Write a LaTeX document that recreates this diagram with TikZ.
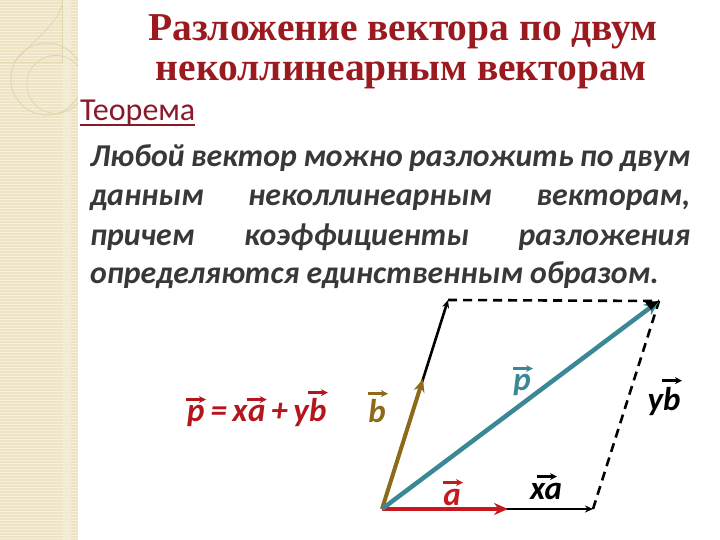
\documentclass[tikz,border=0pt]{standalone}
\usepackage{fontspec}
\setmainfont{Carlito}
\newfontfamily\titlefont{Liberation Serif}
\usetikzlibrary{arrows.meta}
\definecolor{titlered}{HTML}{9A1A1F}
\definecolor{theored}{HTML}{8A1A2A}
\definecolor{bodygray}{HTML}{383838}
\definecolor{fred}{HTML}{B5161E}
\definecolor{vred}{HTML}{C8181E}
\definecolor{volive}{HTML}{8C6A1A}
\definecolor{vteal}{HTML}{3A8896}
\definecolor{stripc}{HTML}{EEE4C5}
\definecolor{stripl}{HTML}{F6EFDA}
\definecolor{decor}{HTML}{E2D6B0}
\tikzset{
  titletext/.style={font=\titlefont\bfseries\fontsize{39.5}{44}\selectfont, text=titlered, inner sep=0pt},
  bodytext/.style={font=\bfseries\itshape\fontsize{31.8}{36}\selectfont, text=bodygray, inner sep=0pt, anchor=base west},
  lbl/.style={font=\bfseries\itshape\fontsize{33}{36}\selectfont, inner sep=0pt, anchor=base},
  overarrow/.style={line width=2.4pt, -{Stealth[length=7pt,width=7pt]}},
  side/.style={line width=2.6pt, black, -{Stealth[length=8pt,width=7pt]}},
  dashside/.style={line width=2.6pt, black, dash pattern=on 9pt off 6pt},
}
\begin{document}
\begin{tikzpicture}[x=1pt,y=-1pt]
\useasboundingbox (0,0) rectangle (720,540);
\fill[white] (0,0) rectangle (720,540);
% left decorative strip
\fill[stripc] (0,0) rectangle (78,540);
\foreach \yy in {1,4,...,540} \draw[stripl, line width=0.9pt] (0,\yy) -- (78,\yy);
\fill[stripl, opacity=0.6] (63,0) rectangle (71,540);
\draw[decor, line width=0.8pt] (0,62) -- (62,62) -- (62,0);
\draw[decor, line width=0.8pt] (14,62) .. controls (35,40) and (55,25) .. (62,6);
\draw[decor, line width=1pt] (78,97) arc[start angle=30, end angle=330, radius=36];
\draw[decor, line width=0.8pt] (78,103) arc[start angle=40, end angle=320, radius=29];

% title
\node[titletext] (t1) at (403,32) {Разложение вектора по двум};
\node[titletext] (t2) at (401,75) {неколлинеарным векторам};

% theorem
\node[font=\fontsize{32}{34}\selectfont, text=theored, inner sep=0pt, anchor=base west] (th) at (80,121) {Теорема};
\draw[theored, line width=1.6pt] ([yshift=-4pt]th.base west) -- ([yshift=-4pt]th.base east);

% body
\node[bodytext] (l1) at (90,167) {\makebox[600pt][s]{Любой вектор можно разложить по двум}};
\node[bodytext] (l2) at (90,206) {\makebox[600pt][s]{данным неколлинеарным векторам,}};
\node[bodytext] (l3) at (90,245) {\makebox[600pt][s]{причем коэффициенты разложения}};
\node[bodytext] (l4) at (90,283) {определяются единственным образом.};

% formula
\begin{scope}[every node/.style={lbl, text=fred, anchor=base west}]
\node (fp) at (187,421) {p};
\node (feq) at (fp.base east) {\,=\,x};
\node (fa) at (feq.base east) {a};
\node (fpl) at (fa.base east) {\,+\,y};
\node (fb) at (fpl.base east) {b};
\end{scope}
\foreach \n in {fp,fa,fb}
  \draw[fred, overarrow] ([xshift=-10pt,yshift=5pt]\n.north) -- ([xshift=10pt,yshift=5pt]\n.north);

% geometry
\coordinate (O) at (382,509);
\coordinate (A) at (508,509);
\coordinate (XA) at (593,509);
\coordinate (B) at (423,379);
\coordinate (YB) at (448,300);
\coordinate (P) at (659,301);

\draw[side] (O) -- (YB);
\draw[side] (O) -- (XA);
\draw[dashside] (YB) -- (P);
\draw[dashside] (XA) -- (P);
\draw[vred, line width=4.5pt, -{Stealth[length=14pt,width=12pt]}] (O) -- (A);
\draw[volive, line width=4pt, -{Stealth[length=13pt,width=11pt]}] (O) -- (B);
\draw[vteal, line width=4.5pt, -{Stealth[length=15pt,width=13pt]}] (O) -- (P);
\fill[black] (P) -- ++(-14,1) -- ++(6,8) -- cycle;

% labels
\node[lbl, text=vteal] (lp) at (522,390) {p};
\node[lbl, text=black] (lyb) at (664,410) {yb};
\node[lbl, text=black] (lxa) at (546,499) {xa};
\node[lbl, text=vred] (la) at (452,505) {a};
\node[lbl, text=volive] (lb) at (377,422) {b};
\draw[vteal, overarrow] ([xshift=-9pt,yshift=5pt]lp.north) -- ([xshift=11pt,yshift=5pt]lp.north);
\draw[black, overarrow] ([xshift=-2pt,yshift=6pt]lyb.north) -- ([xshift=18pt,yshift=6pt]lyb.north);
\draw[black, overarrow] ([xshift=-9pt,yshift=6pt]lxa.north) -- ([xshift=11pt,yshift=6pt]lxa.north);
\draw[vred, overarrow] ([xshift=-9pt,yshift=6pt]la.north) -- ([xshift=11pt,yshift=6pt]la.north);
\draw[volive, overarrow] ([xshift=-9pt,yshift=5pt]lb.north) -- ([xshift=11pt,yshift=5pt]lb.north);
\end{tikzpicture}
\end{document}
